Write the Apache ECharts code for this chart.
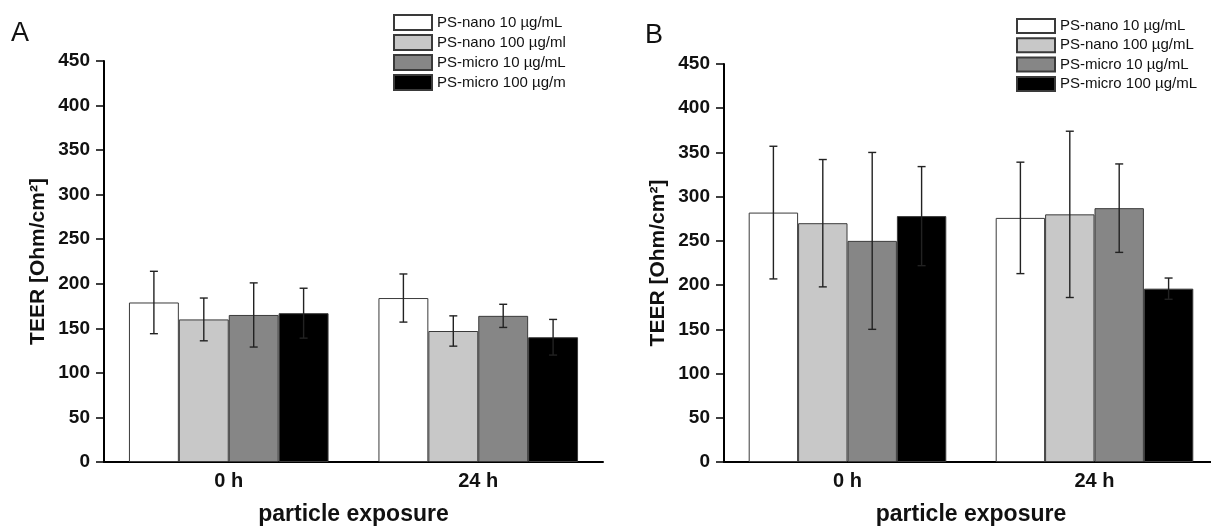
<!DOCTYPE html>
<html>
<head>
<meta charset="utf-8">
<script src="https://cdn.jsdelivr.net/npm/echarts@6/dist/echarts.min.js"></script>
<style>
  html, body { margin: 0; padding: 0; background: #fff; }
  #chart { width: 1211px; height: 529px; }
</style>
</head>
<body>
<div id="chart"></div>
<script>
// data
var categories = ['0 h', '24 h'];
var namesA = ['PS-nano 10 µg/mL', 'PS-nano 100 µg/ml', 'PS-micro 10 µg/mL', 'PS-micro 100 µg/m'];
var namesB = ['PS-nano 10 µg/mL', 'PS-nano 100 µg/mL', 'PS-micro 10 µg/mL', 'PS-micro 100 µg/mL'];
// one row per series, one value per category
var meansA = [[179, 184], [160, 147], [165, 164], [167, 140]];
var errA   = [[35, 27], [24, 17], [36, 13], [28, 20]];
var meansB = [[282, 276], [270, 280], [250, 287], [278, 196]];
var errB   = [[75, 63], [72, 94], [100, 50], [56, 12]];
var yMin = 0, yMax = 450, yStep = 50;

var fills = ['#ffffff', '#c8c8c8', '#868686', '#000000'];
var FONT = 'Liberation Sans, Arial, sans-serif';
var GAP = 0.2; // barCategoryGap

var chart = echarts.init(document.getElementById('chart'));

function errRender(i) {
  return function (params, api) {
    var band = api.size([1, 0])[0];
    var bw = band * (1 - GAP) / 4;
    var x0 = api.coord([api.value(0), 0])[0] + (i - 1.5) * bw;
    var m = api.value(1), e = api.value(2);
    var top = api.coord([api.value(0), m + e])[1];
    var bot = api.coord([api.value(0), m - e])[1];
    var cap = 4;
    var st = { stroke: '#222', lineWidth: 1.4 };
    return {
      type: 'group',
      children: [
        { type: 'line', shape: { x1: x0, y1: top, x2: x0, y2: bot }, style: st },
        { type: 'line', shape: { x1: x0 - cap, y1: top, x2: x0 + cap, y2: top }, style: st },
        { type: 'line', shape: { x1: x0 - cap, y1: bot, x2: x0 + cap, y2: bot }, style: st }
      ]
    };
  };
}

function buildSeries(idx, names, means, errs) {
  var out = [];
  for (var i = 0; i < 4; i++) {
    out.push({
      name: names[i],
      type: 'bar',
      xAxisIndex: idx, yAxisIndex: idx,
      barGap: '0%',
      barCategoryGap: '20%',
      itemStyle: { color: fills[i], borderColor: '#3a3a3a', borderWidth: 1 },
      data: means[i],
      z: 2
    });
  }
  for (var j = 0; j < 4; j++) {
    var d = means[j].map(function (v, k) { return [k, v, errs[j][k]]; });
    out.push({
      type: 'custom',
      xAxisIndex: idx, yAxisIndex: idx,
      renderItem: errRender(j),
      data: d,
      z: 5,
      silent: true
    });
  }
  return out;
}

function xAxisOpt(idx) {
  return {
    gridIndex: idx,
    type: 'category',
    data: categories,
    name: 'particle exposure',
    nameLocation: 'middle',
    nameGap: 41,
    nameMoveOverlap: false,
    nameTextStyle: { fontFamily: FONT, fontSize: 23, fontWeight: 'bold', color: '#111' },
    axisLine: { lineStyle: { color: '#000', width: 2 } },
    axisTick: { show: false },
    axisLabel: { fontFamily: FONT, fontSize: 20, fontWeight: 'bold', color: '#111', margin: 9 },
    splitLine: { show: false }
  };
}

function yAxisOpt(idx) {
  return {
    gridIndex: idx,
    type: 'value',
    min: yMin, max: yMax, interval: yStep,
    name: 'TEER [Ohm/cm²]',
    nameLocation: 'middle',
    nameGap: 55,
    nameMoveOverlap: false,
    nameTextStyle: { fontFamily: FONT, fontSize: 21, fontWeight: 'bold', color: '#111' },
    axisLine: { show: true, lineStyle: { color: '#000', width: 2 } },
    axisTick: { show: true, length: 8, lineStyle: { color: '#000', width: 1.5 } },
    axisLabel: { fontFamily: FONT, fontSize: 19, fontWeight: 'bold', color: '#111', margin: 14 },
    splitLine: { show: false }
  };
}

function legendOpt(names, left, top, h, gap) {
  return {
    data: names,
    orient: 'vertical',
    left: left, top: top,
    itemWidth: 38, itemHeight: h, itemGap: gap,
    icon: 'rect',
    padding: 0,
    textStyle: { fontFamily: FONT, fontSize: 15, lineHeight: h, color: '#111' },
    selectedMode: false
  };
}

chart.setOption({
  animation: false,
  backgroundColor: '#fff',
  title: [
    { text: 'A', left: 6, top: 15, textStyle: { fontFamily: FONT, fontSize: 27, fontWeight: 'normal', color: '#111' } },
    { text: 'B', left: 640, top: 17, textStyle: { fontFamily: FONT, fontSize: 27, fontWeight: 'normal', color: '#111' } }
  ],
  legend: [
    legendOpt(namesA, 393, 14, 15, 3),
    legendOpt(namesB, 1016, 18, 14, 3.3)
  ],
  grid: [
    { left: 104, top: 61, width: 499, height: 401, containLabel: false, outerBoundsMode: 'none' },
    { left: 724, top: 64, width: 494, height: 398, containLabel: false, outerBoundsMode: 'none' }
  ],
  xAxis: [xAxisOpt(0), xAxisOpt(1)],
  yAxis: [yAxisOpt(0), yAxisOpt(1)],
  series: buildSeries(0, namesA, meansA, errA).concat(buildSeries(1, namesB, meansB, errB))
});
</script>
</body>
</html>
